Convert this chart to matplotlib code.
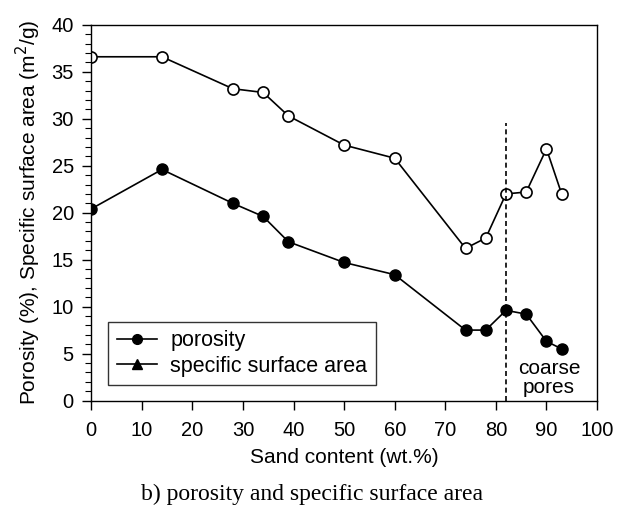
import matplotlib.pyplot as plt
from matplotlib.ticker import MultipleLocator

plt.rcParams['font.family'] = ['Liberation Sans', 'DejaVu Sans']

# sand content (wt.%)
sand = [0, 14, 28, 34, 39, 50, 60, 74, 78, 82, 86, 90, 93]
# specific surface area (m2/g), open circles
ssa = [36.6, 36.6, 33.2, 32.8, 30.3, 27.2, 25.8, 16.2, 17.3, 22.0, 22.2, 26.8, 22.0]
# porosity (%), filled circles
porosity = [20.4, 24.6, 21.0, 19.6, 16.9, 14.7, 13.4, 7.5, 7.5, 9.6, 9.2, 6.3, 5.5]

boundary_x = 82
boundary_top = 29.5

fig = plt.figure(figsize=(6.2, 5.07), dpi=100)
ax = fig.add_axes([0.147, 0.21, 0.816, 0.741])

ax.plot(sand, ssa, '-o', color='black', mfc='white', mec='black',
        ms=8, mew=1.2, lw=1.2)
ax.plot(sand, porosity, '-o', color='black', ms=8, lw=1.2)

# legend handles (the original shows a triangle for the second entry)
h1, = ax.plot([], [], '-o', color='black', ms=7, lw=1.2, label='porosity')
h2, = ax.plot([], [], '-^', color='black', ms=7, lw=1.2,
              label='specific surface area')

ax.plot([boundary_x, boundary_x], [0, boundary_top], '--', color='black',
        lw=1.2, dashes=(3, 2))
ax.text(90.5, 2.4, 'coarse\npores', ha='center', va='center',
        fontsize=15, linespacing=1.05)

ax.set_xlim(0, 100)
ax.set_ylim(0, 40)
ax.xaxis.set_major_locator(MultipleLocator(10))
ax.yaxis.set_major_locator(MultipleLocator(5))
ax.yaxis.set_minor_locator(MultipleLocator(1))
ax.tick_params(axis='both', which='major', direction='out', length=6.5,
               width=1, labelsize=14.5, pad=6)
ax.tick_params(axis='x', which='major', pad=8)
ax.tick_params(axis='y', which='minor', direction='out', length=4, width=0.8)
for s in ax.spines.values():
    s.set_linewidth(1.0)

ax.set_xlabel('Sand content (wt.%)', fontsize=15, labelpad=6)
ax.set_ylabel('Porosity (%), Specific surface area (m$^2$/g)', fontsize=15,
              labelpad=6)

leg = ax.legend(handles=[h1, h2], loc='lower left',
                bbox_to_anchor=(0.012, 0.012), fontsize=15.5, frameon=True,
                fancybox=False, edgecolor='black', handlelength=1.9,
                borderpad=0.4, labelspacing=0.2, handletextpad=0.6)
leg.get_frame().set_linewidth(1.0)

fig.text(0.503, 0.025, 'b) porosity and specific surface area',
         ha='center', va='center', fontsize=17, family='Liberation Serif')

fig.savefig('out.png', dpi=100)
